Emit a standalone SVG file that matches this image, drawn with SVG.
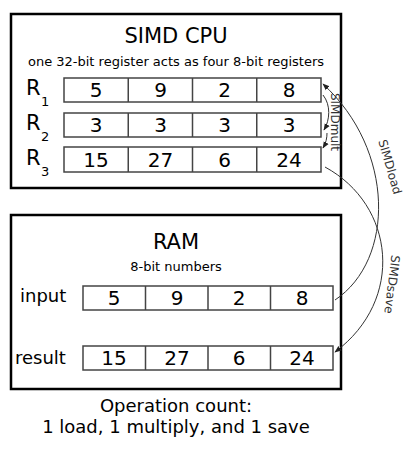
<svg xmlns="http://www.w3.org/2000/svg" width="414" height="451" viewBox="0 0 414 451">
<style>
.box{fill:#fff;stroke:#000;stroke-width:2.5}
.reg{fill:#fff;stroke:#444;stroke-width:1.5}
.div{stroke:#444;stroke-width:1.5}
text{font-family:"DejaVu Sans",Verdana,sans-serif;fill:#000}
.title{font-size:21px;text-anchor:middle}
.sub{font-size:13px;text-anchor:middle}
.num{font-size:20px;text-anchor:middle}
.lbl{font-size:18px}
.rl{font-size:21px}
.rs{font-size:13px}
.op{font-size:18px;text-anchor:middle}
.conn{fill:none;stroke:#333;stroke-width:1}
.cl{font-size:12px;fill:#333;text-anchor:middle}
</style>
<defs>
<marker id="ah" viewBox="0 0 10 10" refX="9" refY="5" markerWidth="7" markerHeight="7" markerUnits="userSpaceOnUse" orient="auto">
<path d="M0,1 L10,5 L0,9 z" fill="#222"/>
</marker>
</defs>
<g id="cpu">
<rect class="box" x="11" y="14" width="330" height="174"/>
<text class="title" x="176" y="43">SIMD CPU</text>
<text class="sub" x="176" y="66">one 32-bit register acts as four 8-bit registers</text>
</g>
<g id="r1">
<text class="rl" x="26" y="95">R</text><text class="rs" x="41" y="106">1</text>
<rect class="reg" x="64" y="78" width="257" height="24"/>
<path class="div" d="M128.25,78v24M192.5,78v24M256.75,78v24"/>
<text class="num" x="96" y="97">5</text><text class="num" x="160.5" y="97">9</text><text class="num" x="224.5" y="97">2</text><text class="num" x="289" y="97">8</text>
</g>
<g id="r2">
<text class="rl" x="26" y="130">R</text><text class="rs" x="41" y="141">2</text>
<rect class="reg" x="64" y="113" width="257" height="24"/>
<path class="div" d="M128.25,113v24M192.5,113v24M256.75,113v24"/>
<text class="num" x="96" y="132">3</text><text class="num" x="160.5" y="132">3</text><text class="num" x="224.5" y="132">3</text><text class="num" x="289" y="132">3</text>
</g>
<g id="r3">
<text class="rl" x="26" y="165">R</text><text class="rs" x="41" y="176">3</text>
<rect class="reg" x="64" y="147" width="257" height="25"/>
<path class="div" d="M128.25,147v25M192.5,147v25M256.75,147v25"/>
<text class="num" x="96" y="167">15</text><text class="num" x="160.5" y="167">27</text><text class="num" x="224.5" y="167">6</text><text class="num" x="289" y="167">24</text>
</g>
<g id="ram">
<rect class="box" x="11" y="215" width="330" height="174"/>
<text class="title" x="176" y="249">RAM</text>
<text class="sub" x="176" y="271">8-bit numbers</text>
</g>
<g id="input">
<text class="lbl" x="20" y="302">input</text>
<rect class="reg" x="83" y="286" width="250" height="24"/>
<path class="div" d="M145.5,286v24M208,286v24M270.5,286v24"/>
<text class="num" x="114" y="305">5</text><text class="num" x="177" y="305">9</text><text class="num" x="239" y="305">2</text><text class="num" x="302" y="305">8</text>
</g>
<g id="result">
<text class="lbl" x="15" y="364">result</text>
<rect class="reg" x="83" y="346" width="250" height="24"/>
<path class="div" d="M145.5,346v24M208,346v24M270.5,346v24"/>
<text class="num" x="114" y="365">15</text><text class="num" x="177" y="365">27</text><text class="num" x="239" y="365">6</text><text class="num" x="302" y="365">24</text>
</g>
<g id="connectors">
<path class="conn" d="M323,95 C331,105 330,120 324,130" marker-end="url(#ah)"/>
<path class="conn" d="M327,133 C327,138 326,143 323,148" marker-end="url(#ah)"/>
<text class="cl" transform="translate(331,122) rotate(90)">SIMDmult</text>
<path class="conn" d="M335,300 C395,260 395,150 323,84" marker-end="url(#ah)"/>
<text class="cl" transform="translate(386,168) rotate(74)">SIMDload</text>
<path class="conn" d="M325,167 C395,205 405,300 335,352" marker-end="url(#ah)"/>
<text class="cl" transform="translate(388,284) rotate(97)">SIMDsave</text>
</g>
<g id="footer">
<text class="op" x="176" y="412">Operation count:</text>
<text class="op" x="176" y="433">1 load, 1 multiply, and 1 save</text>
</g>
</svg>
